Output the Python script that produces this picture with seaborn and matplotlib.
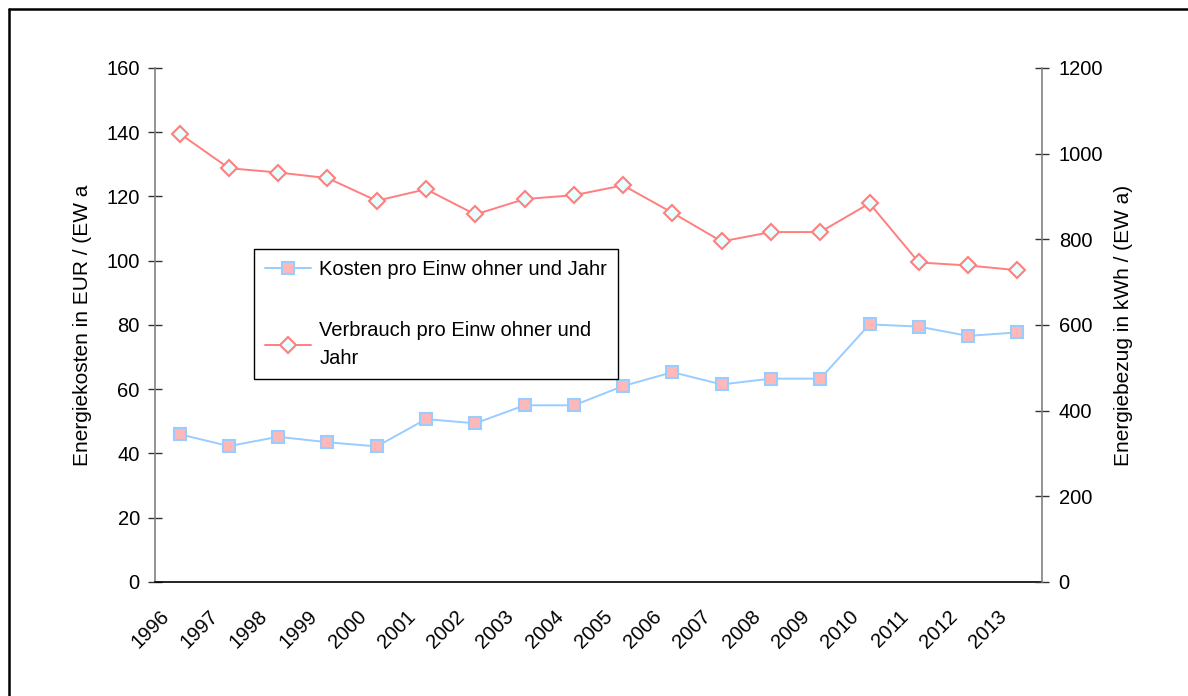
import numpy as np
import pandas as pd
import matplotlib
matplotlib.use("Agg")
import matplotlib.pyplot as plt
import matplotlib.transforms as mtransforms
from matplotlib.lines import Line2D
import seaborn as sns

# Data
years = [1996, 1997, 1998, 1999, 2000, 2001, 2002, 2003, 2004,
         2005, 2006, 2007, 2008, 2009, 2010, 2011, 2012, 2013]
kosten = [46.0, 42.3, 45.2, 43.5, 42.2, 50.7, 49.4, 55.0, 55.0,
          61.0, 65.3, 61.5, 63.3, 63.3, 80.2, 79.5, 76.6, 77.7]
verbrauch = [1047, 966, 956, 943, 890, 917, 858, 894, 903,
             926, 862, 795, 817, 817, 884, 746, 739, 728]

label_kosten = "Kosten pro Einw ohner und Jahr"
label_verbrauch = "Verbrauch pro Einw ohner und\nJahr"

df = pd.DataFrame({"Jahr": years, "Kosten": kosten, "Verbrauch": verbrauch})

sns.set_style("white")
plt.rcParams["font.family"] = ["Liberation Sans", "DejaVu Sans"]
plt.rcParams["text.color"] = "black"
plt.rcParams["axes.labelcolor"] = "black"
plt.rcParams["xtick.color"] = "black"
plt.rcParams["ytick.color"] = "black"

fig = plt.figure(figsize=(11.88, 6.96), dpi=100)
ax = fig.add_axes([0.1305, 0.1638, 0.7466, 0.7385])
ax2 = ax.twinx()

blue = "#99CCFF"
pink = "#FFB8B8"
red = "#FF7F7F"

sns.lineplot(data=df, x="Jahr", y="Kosten", ax=ax, color=blue, linewidth=1.4,
             marker="s", markersize=9, markerfacecolor=pink,
             markeredgecolor=blue, markeredgewidth=1.5, label=label_kosten,
             legend=False)
sns.lineplot(data=df, x="Jahr", y="Verbrauch", ax=ax2, color=red, linewidth=1.4,
             marker="D", markersize=8, markerfacecolor="#E8FFFF",
             markeredgecolor=red, markeredgewidth=1.5, label=label_verbrauch,
             legend=False)

# axes ranges
ax.set_xlim(years[0] - 0.5, years[-1] + 0.5)
ax.set_ylim(0, 160)
ax2.set_ylim(0, 1200)
ax.set_yticks(np.arange(0, 161, 20))
ax2.set_yticks(np.arange(0, 1201, 200))

ax.set_xlabel("")
ax.set_ylabel("Energiekosten in EUR / (EW a", fontsize=15, labelpad=10)
ax2.set_ylabel("Energiebezug in kWh / (EW a)", fontsize=15, labelpad=8)

for a in (ax, ax2):
    a.tick_params(axis="both", labelsize=14.5, direction="inout", length=10,
                  width=1, color="#333333", labelcolor="black")
    a.spines["top"].set_visible(False)
ax.tick_params(axis="y", pad=6)
ax2.tick_params(axis="y", pad=7)
ax.tick_params(axis="x", pad=4)
ax.spines["left"].set_color("#808080")
ax2.spines["right"].set_color("#808080")
ax2.spines["left"].set_visible(False)
ax.spines["right"].set_visible(False)
ax2.spines["bottom"].set_visible(False)
ax.spines["bottom"].set_color("#000000")
for s in ("left", "bottom"):
    ax.spines[s].set_linewidth(1.2)
ax2.spines["right"].set_linewidth(1.2)

# category ticks sit on boundaries, labels on the left boundary of each year
bounds = [y - 0.5 for y in years] + [years[-1] + 0.5]
ax.set_xticks(bounds)
ax.set_xticklabels([str(y) for y in years] + [""], rotation=45,
                   ha="right", va="center", rotation_mode="anchor")
offset = mtransforms.ScaledTranslation(11 / 100, -19 / 100, fig.dpi_scale_trans)
for lbl in ax.get_xticklabels():
    lbl.set_transform(lbl.get_transform() + offset)

# legend with both series
h1, l1 = ax.get_legend_handles_labels()
h2, l2 = ax2.get_legend_handles_labels()
leg = ax2.legend(h1 + h2, l1 + l2, loc="upper left",
                 bbox_to_anchor=(0.1116, 0.648), fontsize=14.5,
                 frameon=True, fancybox=False, framealpha=1,
                 edgecolor="black", borderpad=0.55, labelspacing=2.1,
                 handlelength=2.3, handletextpad=0.4, borderaxespad=0)
leg.get_frame().set_linewidth(1.0)
for t in leg.get_texts():
    t.set_linespacing(1.6)

# outer chart border (top and left visible)
fig.add_artist(Line2D([8.5 / 1188, 8.5 / 1188], [0, 1 - 8.5 / 696],
                      transform=fig.transFigure, color="black", linewidth=1.8))
fig.add_artist(Line2D([8.5 / 1188, 1], [1 - 8.5 / 696, 1 - 8.5 / 696],
                      transform=fig.transFigure, color="black", linewidth=1.8))

fig.savefig("out.png", dpi=100)
